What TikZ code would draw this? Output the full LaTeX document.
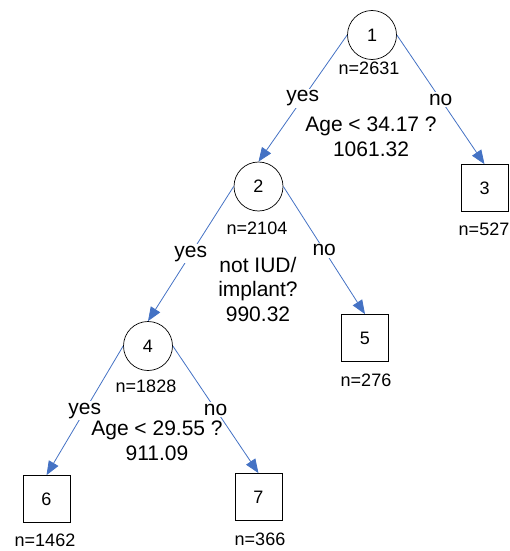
\documentclass[tikz,border=0pt]{standalone}
\usepackage{fontspec}
\setmainfont{Liberation Sans}
\usetikzlibrary{arrows.meta}
\definecolor{bleu}{RGB}{68,114,196}
\begin{document}
\begin{tikzpicture}[x=1pt, y=-1pt]
			\tikzset{noeud/.style={circle, draw=black, line width=0.7pt, inner sep=0pt, minimum size=49pt, font=\fontsize{18}{20}\selectfont}, feuille/.style={rectangle, draw=black, line width=0.7pt, inner sep=0pt, minimum size=47pt, font=\fontsize{18}{20}\selectfont}, fleche/.style={>={Triangle[length=14pt, width=11pt]}, ->, draw=bleu, line width=0.8pt}, effectif/.style={inner sep=0pt, font=\fontsize{18}{20}\selectfont}, etiq/.style={fill=white, inner sep=1.5pt, font=\fontsize{21}{24}\selectfont}, question/.style={align=center, inner sep=0pt, font=\fontsize{21}{24.5}\selectfont}};

			\useasboundingbox (0,0) rectangle (509,551);

			\node[noeud]   (n1) at (  372,   35) {1};
			\node[noeud]   (n2) at (258.5,186.5) {2};
			\node[feuille] (n3) at (484.5,  188) {3};
			\node[noeud]   (n4) at (  148,  346) {4};
			\node[feuille] (n5) at (  365,  338) {5};
			\node[feuille] (n6) at ( 46.5,  499) {6};
			\node[feuille] (n7) at (258.5,  497) {7};

			\node[effectif] (e1) at (369,  68) {n=2631};
			\node[effectif] (e2) at (257, 228) {n=2104};
			\node[effectif] (e3) at (484, 229) {n=527};
			\node[effectif] (e4) at (146, 386) {n=1828};
			\node[effectif] (e5) at (366, 380) {n=276};
			\node[effectif] (e6) at ( 45, 540) {n=1462};
			\node[effectif] (e7) at (260, 539) {n=366};

			\draw[fleche] (n1.west) to node[etiq] {yes} (n2.north);
			\draw[fleche] (n1.east) to node[etiq] {no}  (n3.north);
			\draw[fleche] (n2.west) to node[etiq] {yes} (n4.north);
			\draw[fleche] (n2.east) to node[etiq] {no}  (n5.north);
			\draw[fleche] (n4.west) to node[etiq] {yes} (n6.north);
			\draw[fleche] (n4.east) to node[etiq] {no}  (n7.north);

			\node[question] (q1) at (371, 137) {Age < 34.17 ?\\1061.32};
			\node[question] (q2) at (258, 289) {not IUD/\\implant?\\990.32};
			\node[question] (q4) at (157, 441) {Age < 29.55 ?\\911.09};

		\end{tikzpicture}
\end{document}
